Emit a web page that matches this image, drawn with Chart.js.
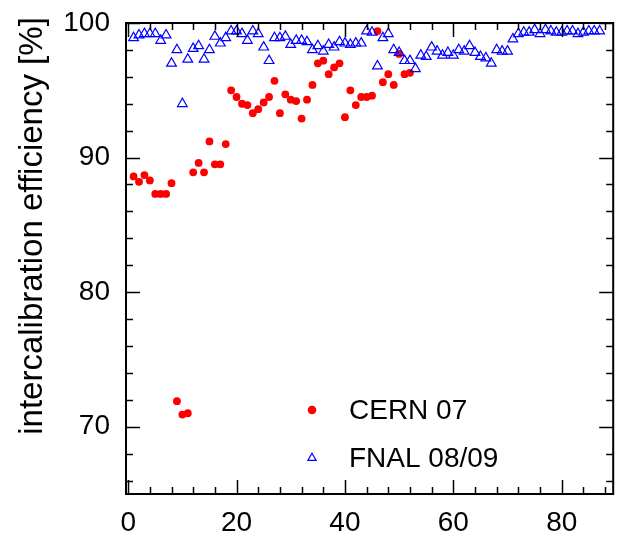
<!DOCTYPE html>
<html>
<head>
<meta charset="utf-8">
<script src="https://cdn.jsdelivr.net/npm/chart.js@4/dist/chart.umd.min.js"></script>
<style>
  html, body { margin: 0; padding: 0; background: #fff; }
  #wrap { width: 620px; height: 538px; position: relative; }
</style>
</head>
<body>
<div id="wrap"><canvas id="c"></canvas></div>
<script>
// CERN 07 intercalibration efficiency [%], runs 1..52
const cernEff = [
  88.6, 88.2, 88.7, 88.3, 87.3, 87.3, 87.3, 88.1, 71.9, 70.9,
  71.0, 88.9, 89.6, 88.9, 91.2, 89.5, 89.5, 91.0, 95.0, 94.5,
  94.0, 93.9, 93.3, 93.6, 94.1, 94.5, 95.7, 93.3, 94.7, 94.3,
  94.2, 92.9, 94.3, 95.4, 97.0, 97.2, 96.2, 96.7, 97.0, 93.0,
  95.0, 93.9, 94.5, 94.5, 94.6, 99.4, 95.6, 96.2, 95.4, 97.7,
  96.2, 96.3
];
// FNAL 08/09 intercalibration efficiency [%], runs 1..87
const fnalEff = [
  98.9, 99.1, 99.2, 99.2, 99.2, 98.7, 99.1, 97.0, 98.0, 94.0,
  97.3, 98.1, 98.3, 97.3, 98.0, 99.0, 98.5, 98.9, 99.4, 99.4,
  99.2, 98.7, 99.4, 99.2, 98.2, 97.2, 98.9, 98.9, 99.0, 98.4,
  98.7, 98.7, 98.6, 98.0, 98.3, 97.9, 98.4, 98.2, 98.6, 98.5,
  98.4, 98.5, 98.5, 99.4, 99.3, 96.8, 98.9, 99.2, 98.0, 97.8,
  97.2, 97.2, 96.6, 97.6, 97.5, 98.2, 97.9, 97.6, 97.8, 97.6,
  98.0, 97.9, 98.3, 97.8, 97.5, 97.4, 97.0, 98.0, 97.9, 97.9,
  98.8, 99.2, 99.3, 99.3, 99.5, 99.2, 99.5, 99.4, 99.3, 99.3,
  99.4, 99.4, 99.2, 99.3, 99.4, 99.4, 99.4
];
const seriesNames = ['CERN 07', 'FNAL 08/09'];
const xTickLabels = [0, 20, 40, 60, 80];
const yTickLabels = [70, 80, 90, 100];

const FONT = '"Liberation Sans", Arial, Helvetica, sans-serif';
const RED = '#ff0000';
const BLUE = '#0000ff';

const frame = {
  id: 'frame',
  afterDraw(chart) {
    const { ctx, chartArea: a, scales: { x, y } } = chart;
    ctx.save();
    ctx.strokeStyle = '#000';
    ctx.lineWidth = 1.5;
    ctx.beginPath();
    for (let v = 0; v <= 88; v += 4) {
      const px = Math.round(x.getPixelForValue(v)) + 0.5;
      const len = v % 20 === 0 ? 14 : 7;
      ctx.moveTo(px, a.bottom); ctx.lineTo(px, a.bottom - len);
      ctx.moveTo(px, a.top); ctx.lineTo(px, a.top + len);
    }
    for (let v = 66; v <= 100; v += 2) {
      const py = Math.round(y.getPixelForValue(v)) + 0.5;
      const len = v % 10 === 0 ? 14 : 7;
      ctx.moveTo(a.left, py); ctx.lineTo(a.left + len, py);
      ctx.moveTo(a.right, py); ctx.lineTo(a.right - len, py);
    }
    ctx.stroke();
    ctx.lineWidth = 2;
    ctx.strokeRect(a.left, a.top, a.right - a.left, a.bottom - a.top);

    // y axis title
    ctx.fillStyle = '#000';
    ctx.font = '33px ' + FONT;
    ctx.textAlign = 'center';
    ctx.textBaseline = 'middle';
    ctx.translate(33, 226);
    ctx.rotate(-Math.PI / 2);
    ctx.fillText('intercalibration efficiency [%]', 0, 0);
    ctx.setTransform(1, 0, 0, 1, 0, 0);

    // legend
    ctx.font = '28px ' + FONT;
    ctx.textAlign = 'left';
    const ds = chart.data.datasets;
    [[410, ds[0], 3.7], [458, ds[1], 4.8]].forEach(([ly, d, r]) => {
      ctx.fillStyle = d.backgroundColor;
      ctx.strokeStyle = d.borderColor;
      ctx.lineWidth = 1.2;
      Chart.helpers.drawPoint(ctx, { pointStyle: d.pointStyle, radius: r, borderWidth: 1.2 }, 312, ly);
      ctx.fillStyle = '#000';
      ctx.fillText(d.label, 349, ly + 1);
    });
    ctx.restore();
  }
};

new Chart(document.getElementById('c'), {
  type: 'scatter',
  data: {
    datasets: [
      {
        label: seriesNames[0],
        data: cernEff.map((v, i) => ({ x: i + 1, y: v })),
        pointStyle: 'circle',
        pointRadius: 3.9,
        backgroundColor: RED,
        borderColor: RED,
        borderWidth: 0,
        order: 1
      },
      {
        label: seriesNames[1],
        data: fnalEff.map((v, i) => ({ x: i + 1, y: v })),
        pointStyle: 'triangle',
        pointRadius: 5.6,
        backgroundColor: 'rgba(0,0,0,0)',
        borderColor: BLUE,
        borderWidth: 1.2,
        order: 0
      }
    ]
  },
  options: {
    responsive: true,
    maintainAspectRatio: false,
    animation: false,
    layout: { padding: { top: 23, right: 4, left: 0, bottom: 0 } },
    plugins: { legend: { display: false }, tooltip: { enabled: false } },
    scales: {
      x: {
        type: 'linear',
        min: -0.4,
        max: 89.5,
        afterBuildTicks: s => { s.ticks = xTickLabels.map(v => ({ value: v })); },
        afterFit: s => { s.height = 44; s.paddingLeft = 0; s.paddingRight = 0; },
        grid: { display: false, drawTicks: false },
        border: { display: false },
        ticks: { color: '#000', padding: 12, maxRotation: 0, font: { family: FONT, size: 28 } }
      },
      y: {
        type: 'linear',
        min: 65,
        max: 100,
        afterBuildTicks: s => { s.ticks = yTickLabels.map(v => ({ value: v })); },
        afterFit: s => { s.width = 126; s.paddingTop = 0; s.paddingBottom = 0; },
        grid: { display: false, drawTicks: false },
        border: { display: false },
        ticks: { color: '#000', padding: 16, font: { family: FONT, size: 28 } }
      }
    }
  },
  plugins: [frame]
});
</script>
</body>
</html>
